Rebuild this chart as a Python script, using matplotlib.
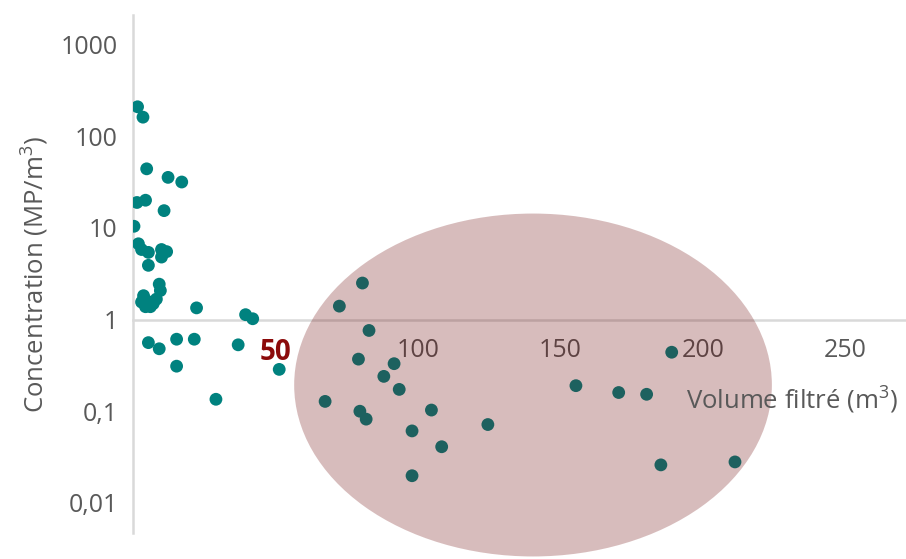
import numpy as np
import matplotlib
matplotlib.use("Agg")
import matplotlib.pyplot as plt
from matplotlib.patches import Ellipse

plt.rcParams['font.family'] = ['Open Sans', 'DejaVu Sans']
plt.rcParams['mathtext.fontset'] = 'custom'
plt.rcParams['mathtext.rm'] = 'Open Sans'
plt.rcParams['mathtext.it'] = 'Open Sans'

# volume filtré (m3) / concentration (MP/m3)
vol = [1.6, 3.5, 4.8, 12.3, 17.1, 1.4, 4.4, 10.9, 0.35, 1.9, 3.0, 5.4, 5.4, 10.0, 11.8, 10.0,
       9.2, 9.6, 3.7, 3.0, 4.9, 7.1, 6.1, 8.2, 4.4, 22.3, 39.5, 42.0,
       5.4, 9.2, 15.3, 21.5, 36.9, 15.3, 29.1, 51.3,
       80.5, 72.4, 82.8, 79.1, 91.6, 88.0, 93.4, 67.4, 79.6, 81.8, 104.7,
       97.9, 108.3, 97.9, 124.5, 155.4, 170.4, 180.2, 189.0, 185.2, 211.2]
conc = [209, 161, 44, 35.5, 31.6, 18.9, 20, 15.4, 10.4, 6.7, 5.8, 5.4, 3.9, 5.8, 5.5, 4.8,
        2.43, 2.07, 1.82, 1.55, 1.59, 1.49, 1.38, 1.67, 1.38, 1.34, 1.13, 1.02,
        0.56, 0.48, 0.61, 0.61, 0.53, 0.31, 0.135, 0.286,
        2.5, 1.4, 0.76, 0.37, 0.33, 0.24, 0.173, 0.128, 0.10, 0.082, 0.103,
        0.061, 0.041, 0.0198, 0.0716, 0.19, 0.16, 0.153, 0.44, 0.026, 0.028]

yticks = [0.01, 0.1, 1, 10, 100, 1000]
ylabels = ["0,01", "0,1", "1", "10", "100", "1000"]
xticks = [50, 100, 150, 200, 250]
xlabels = ["50", "100", "150", "200", "250"]

grey = "#595959"
axis_col = "#d9d9d9"

fig = plt.figure(figsize=(9.06, 5.59), dpi=100)
ax = fig.add_axes([133 / 906, 1 - 533 / 559, 773 / 906, 518 / 559])

ax.scatter(vol, conc, s=85, color="#00827f", edgecolors="none", zorder=3)

ax.set_yscale("log")
ax.set_xlim(0, 271.2)
ax.set_ylim(0.0047, 2094)

ax.spines["top"].set_visible(False)
ax.spines["right"].set_visible(False)
ax.spines["bottom"].set_position(("data", 1))
for sp in ("left", "bottom"):
    ax.spines[sp].set_color(axis_col)
    ax.spines[sp].set_linewidth(1.8)

ax.set_yticks(yticks)
ax.set_yticklabels(ylabels)
ax.yaxis.set_minor_locator(matplotlib.ticker.NullLocator())
ax.set_xticks(xticks)
ax.set_xticklabels(xlabels)
ax.tick_params(axis="y", length=0, pad=11, labelsize=18, labelcolor=grey)
ax.tick_params(axis="x", length=0, pad=13, labelsize=18, labelcolor=grey)

# the 50 m3 threshold stands out
lab50 = ax.get_xticklabels()[0]
lab50.set_color("#8b0a0a")
lab50.set_fontweight("bold")
lab50.set_fontsize(20)

fig.text(35 / 906, 1 - 274 / 559, r"Concentration (MP/m$^3$)", rotation=90,
         ha="center", va="center", fontsize=18.5, color=grey)
fig.text(686 / 906, 1 - 400 / 559, r"Volume filtré (m$^3$)",
         ha="left", va="center", fontsize=18.5, color=grey)

# shaded zone of the large volumes
ell = Ellipse((0.5175, 0.2857), 0.618, 0.662, transform=ax.transAxes,
              facecolor="#6e0a0a", alpha=0.27, edgecolor="none",
              zorder=10, clip_on=False)
ax.add_patch(ell)

fig.savefig("out.png", dpi=100)
